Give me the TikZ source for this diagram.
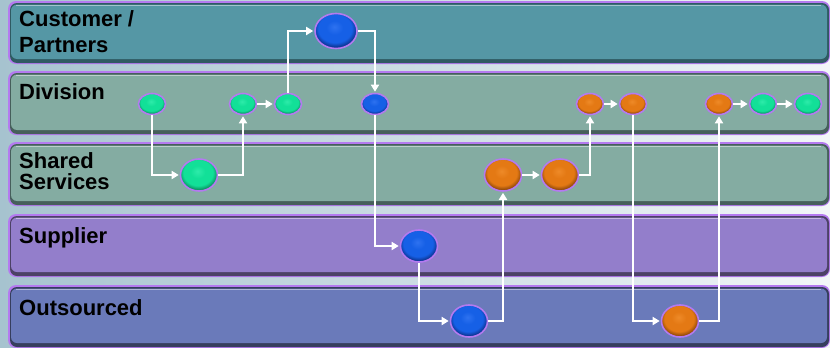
\documentclass[tikz,border=0pt]{standalone}
\usepackage{fontspec}
\setmainfont{Liberation Sans}
\usetikzlibrary{shapes.geometric,arrows.meta}
\definecolor{bgL}{HTML}{A6C3CF}
\definecolor{bgR}{HTML}{F2F6F8}
\definecolor{halo}{HTML}{B47AF0}
\definecolor{laneA}{HTML}{5597A5}
\definecolor{laneAd}{HTML}{2F5A62}
\definecolor{laneB}{HTML}{84ACA2}
\definecolor{laneBd}{HTML}{465F5B}
\definecolor{laneC}{HTML}{937ECB}
\definecolor{laneCd}{HTML}{4C4266}
\definecolor{laneD}{HTML}{6A7ABA}
\definecolor{laneDd}{HTML}{363E5E}
\definecolor{blueHi}{HTML}{2E72F0}
\definecolor{blueM}{HTML}{1660E6}
\definecolor{blueD}{HTML}{0A2A80}
\definecolor{greenHi}{HTML}{2EEBAA}
\definecolor{greenM}{HTML}{12E098}
\definecolor{greenD}{HTML}{097F54}
\definecolor{orangeHi}{HTML}{EE8A28}
\definecolor{orangeM}{HTML}{E47914}
\definecolor{orangeD}{HTML}{7E3E08}
\pgfdeclareradialshading{shblue}{\pgfpoint{-2bp}{6bp}}{color(0bp)=(blueHi); color(10bp)=(blueM); color(20bp)=(blueM); color(27bp)=(blueD); color(50bp)=(blueD)}
\pgfdeclareradialshading{shgreen}{\pgfpoint{-2bp}{6bp}}{color(0bp)=(greenHi); color(10bp)=(greenM); color(20bp)=(greenM); color(27bp)=(greenD); color(50bp)=(greenD)}
\pgfdeclareradialshading{shorange}{\pgfpoint{-2bp}{6bp}}{color(0bp)=(orangeHi); color(10bp)=(orangeM); color(20bp)=(orangeM); color(27bp)=(orangeD); color(50bp)=(orangeD)}
\newcommand\mylane[4]{%
  \fill[halo, rounded corners=8pt] (8,#1-2) rectangle (830,#2+1);
  \fill[#4, rounded corners=7pt] (10,#1) rectangle (829,#2);
  \fill[#3, rounded corners=6pt] (11,#1+1.5) rectangle (827,#2-4);
  \draw[white, opacity=0.45, line width=1.4pt] (16,#1+2.5) -- (821,#1+2.5);
}
\begin{document}
\begin{tikzpicture}[x=1pt,y=-1pt,
  flownode/.style={ellipse, draw=halo, line width=1.6pt, inner sep=0pt, shade},
  smallnode/.style={flownode, minimum width=27pt, minimum height=21pt},
  midnode/.style={flownode, minimum width=37pt, minimum height=32pt},
  bignode/.style={flownode, minimum width=42pt, minimum height=35pt},
  bluefill/.style={shading=shblue},
  greenfill/.style={shading=shgreen},
  orangefill/.style={shading=shorange},
  flow/.style={draw=white, line width=2pt, -{Triangle[length=7pt,width=8pt]}, shorten >=1pt},
  lbl/.style={inner sep=0pt, anchor=base west, align=left, font=\fontsize{22}{25}\selectfont\bfseries}
]
\useasboundingbox (0,0) rectangle (830,348);
\shade[left color=bgL, right color=bgR] (0,0) rectangle (830,348);
\mylane{3}{63}{laneA}{laneAd}
\mylane{73}{134}{laneB}{laneBd}
\mylane{144}{205}{laneB}{laneBd}
\mylane{216}{276}{laneC}{laneCd}
\mylane{287}{347}{laneD}{laneDd}

\node[lbl] (lcp) at (19,52) {Customer /\\Partners};
\node[lbl] (ldiv) at (19,99) {Division};
\node[lbl, font=\fontsize{22}{21}\selectfont\bfseries] (lss) at (19,189) {Shared\\Services};
\node[lbl] (lsup) at (19,243) {Supplier};
\node[lbl] (lout) at (19,315) {Outsourced};

\node[bignode, bluefill] (cp) at (336,31) {};
\node[smallnode, greenfill] (d1) at (152,104) {};
\node[smallnode, greenfill] (d2) at (243,104) {};
\node[smallnode, greenfill] (d3) at (288,104) {};
\node[smallnode, bluefill] (d4) at (375,104) {};
\node[smallnode, orangefill] (d5) at (590,104) {};
\node[smallnode, orangefill] (d6) at (633,104) {};
\node[smallnode, orangefill] (d7) at (719,104) {};
\node[smallnode, greenfill] (d8) at (763,104) {};
\node[smallnode, greenfill] (d9) at (808,104) {};
\node[midnode, greenfill] (s1) at (199,175) {};
\node[midnode, orangefill] (s2) at (503,175) {};
\node[midnode, orangefill] (s3) at (560,175) {};
\node[midnode, bluefill] (p1) at (419,246) {};
\node[midnode, bluefill] (o1) at (469,321) {};
\node[midnode, orangefill] (o2) at (680,321) {};

\draw[flow] (d1) |- (s1);
\draw[flow] (s1) -| (d2);
\draw[flow] (d2) -- (d3);
\draw[flow] (d3) |- (cp);
\draw[flow] (cp) -| (d4);
\draw[flow] (d4) |- (p1);
\draw[flow] (p1) |- (o1);
\draw[flow] (o1) -| (s2);
\draw[flow] (s2) -- (s3);
\draw[flow] (s3) -| (d5);
\draw[flow] (d5) -- (d6);
\draw[flow] (d6) |- (o2);
\draw[flow] (o2) -| (d7);
\draw[flow] (d7) -- (d8);
\draw[flow] (d8) -- (d9);
\end{tikzpicture}
\end{document}
